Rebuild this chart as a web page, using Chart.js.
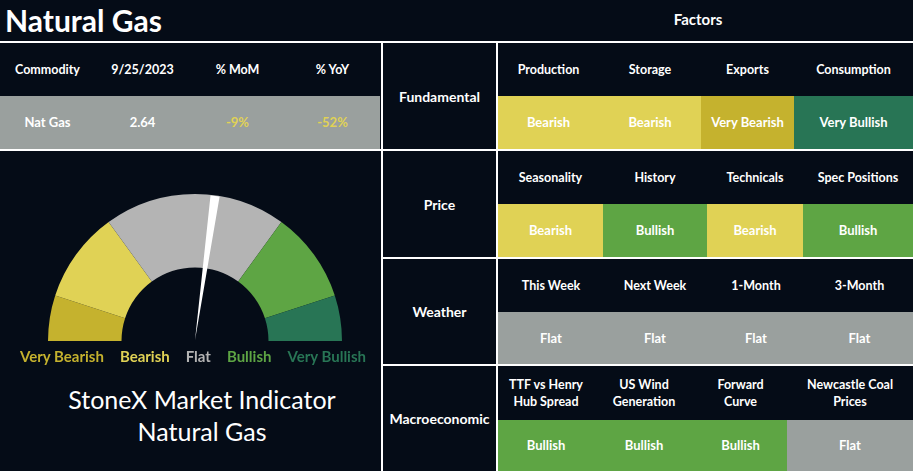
<!DOCTYPE html>
<html>
<head>
<meta charset="utf-8">
<script src="https://cdn.jsdelivr.net/npm/chart.js@4.4.0/dist/chart.umd.min.js"></script>
<style>
html, body { margin: 0; padding: 0; background: #050c17; }
body { width: 913px; height: 471px; position: relative; overflow: hidden; font-family: Lato, "Open Sans", sans-serif; color: #fff; }
.abs { position: absolute; }
.line { position: absolute; background: #fff; }
.cell { position: absolute; display: flex; align-items: center; justify-content: center; text-align: center; font-weight: 700; font-size: 12.5px; white-space: pre-line; line-height: 17px; }
#gauge, #needle { position: absolute; left: 5px; top: 194px; }
#gaugeLabels { position: absolute; left: 0; top: 347px; width: 386px; display: flex; justify-content: center; gap: 16px; font-size: 15px; font-weight: 700; line-height: 18px; }
</style>
</head>
<body>
<div class="abs" style="left:5px;top:5px;font-size:30px;font-weight:700;line-height:30px;">Natural Gas</div>
<div class="abs" style="left:598px;top:10px;width:200px;text-align:center;font-size:15px;font-weight:700;line-height:18px;">Factors</div>
<div id="board"></div>
<canvas id="gauge" width="380" height="147"></canvas>
<canvas id="needle" width="380" height="147"></canvas>
<div id="gaugeLabels"></div>
<div class="abs" style="left:0;top:383px;width:404px;text-align:center;font-size:25px;line-height:32px;">StoneX Market Indicator<br>Natural Gas</div>
<script>
// gauge
const gaugeLabels = ['Very Bearish', 'Bearish', 'Flat', 'Bullish', 'Very Bullish'];
const gaugeBands = [1, 2, 4, 2, 1];
const needleValue = 5.44;
const needleWidth = 0.2;

// commodity table
const tableHeaders = ['Commodity', '9/25/2023', '% MoM', '% YoY'];
const commodityRow = ['Nat Gas', '2.64', '-9%', '-52%'];

// factors
const factorGroups = ['Fundamental', 'Price', 'Weather', 'Macroeconomic'];
const fundamentalFactors = ['Production', 'Storage', 'Exports', 'Consumption'];
const fundamentalCalls = ['Bearish', 'Bearish', 'Very Bearish', 'Very Bullish'];
const priceFactors = ['Seasonality', 'History', 'Technicals', 'Spec Positions'];
const priceCalls = ['Bearish', 'Bullish', 'Bearish', 'Bullish'];
const weatherFactors = ['This Week', 'Next Week', '1-Month', '3-Month'];
const weatherCalls = ['Flat', 'Flat', 'Flat', 'Flat'];
const macroFactors = ['TTF vs Henry\nHub Spread', 'US Wind\nGeneration', 'Forward\nCurve', 'Newcastle Coal\nPrices'];
const macroCalls = ['Bullish', 'Bullish', 'Bullish', 'Flat'];

const gaugeColors = ['#c5b22e', '#e0d255', '#b4b4b4', '#5ea544', '#287555'];
const cellColors = {
    'Very Bearish': '#c5b22e',
    'Bearish': '#e0d255',
    'Flat': '#9aa09e',
    'Bullish': '#5ea544',
    'Very Bullish': '#287555'
};

const board = document.getElementById('board');

function box(cls, x, y, w, h, text, extra) {
    const d = document.createElement('div');
    d.className = cls;
    d.style.left = x + 'px';
    d.style.top = y + 'px';
    d.style.width = w + 'px';
    d.style.height = h + 'px';
    if (text) d.textContent = text;
    Object.assign(d.style, extra || {});
    board.appendChild(d);
    return d;
}

// commodity table
const colW = 95;
tableHeaders.forEach((t, i) => box('cell', i * colW, 43, colW, 53, t));
box('abs', 0, 96, 380, 53, '', { background: '#9aa09e' });
commodityRow.forEach((t, i) => {
    box('cell', i * colW, 96, colW, 53, t, { fontSize: '13px', color: i > 1 ? '#e0d255' : '#fff' });
});

// factor rows
const rowTop = [43, 151, 259, 366];
const rowSplit = [96, 204, 312, 420];
const rowBottom = [149, 257, 364, 471];
const rowWidths = [[101, 102, 93, 119], [105, 104, 96, 110], [106, 102, 100, 107], [96, 100, 93, 126]];
const rowFactors = [fundamentalFactors, priceFactors, weatherFactors, macroFactors];
const rowCalls = [fundamentalCalls, priceCalls, weatherCalls, macroCalls];

factorGroups.forEach((g, r) => {
    box('cell', 383, rowTop[r], 113, rowBottom[r] - rowTop[r], g, { fontSize: '14px' });
    let x = 498;
    rowFactors[r].forEach((f, c) => {
        const w = rowWidths[r][c];
        box('cell', x, rowTop[r], w, rowSplit[r] - rowTop[r], f);
        box('cell', x, rowSplit[r], w, rowBottom[r] - rowSplit[r], rowCalls[r][c],
            { background: cellColors[rowCalls[r][c]], fontSize: '13px' });
        x += w;
    });
});

// grid lines
box('line', 0, 41, 913, 2);
box('line', 0, 149, 381, 2);
box('line', 381, 41, 2, 430);
box('line', 496, 41, 2, 430);
[149, 257, 364].forEach(y => box('line', 383, y, 530, 2));

// gauge labels
const lab = document.getElementById('gaugeLabels');
gaugeLabels.forEach((t, i) => {
    const s = document.createElement('span');
    s.textContent = t;
    s.style.color = i === 2 ? '#b4b4b4' : gaugeColors[i];
    lab.appendChild(s);
});

const halfGauge = {
    responsive: false,
    animation: false,
    rotation: -90,
    circumference: 180,
    layout: { padding: 0 },
    plugins: { legend: { display: false }, tooltip: { enabled: false } }
};

new Chart(document.getElementById('gauge'), {
    type: 'doughnut',
    data: {
        labels: gaugeLabels,
        datasets: [{ data: gaugeBands, backgroundColor: gaugeColors, borderWidth: 0 }]
    },
    options: Object.assign({ cutout: '50%' }, halfGauge)
});

const gaugeTotal = gaugeBands.reduce((a, b) => a + b, 0);
new Chart(document.getElementById('needle'), {
    type: 'pie',
    data: {
        labels: ['', 'Needle', ''],
        datasets: [{
            data: [needleValue - needleWidth / 2, needleWidth, gaugeTotal - needleValue - needleWidth / 2],
            backgroundColor: ['rgba(0,0,0,0)', '#ffffff', 'rgba(0,0,0,0)'],
            borderWidth: 0
        }]
    },
    options: Object.assign({ radius: '99%' }, halfGauge)
});
</script>
</body>
</html>
